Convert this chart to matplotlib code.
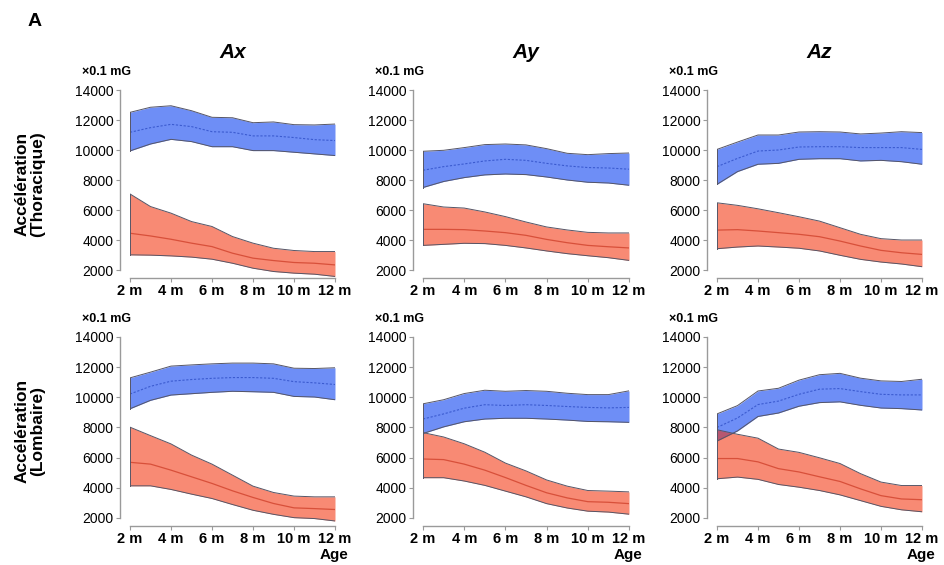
import matplotlib
matplotlib.use("Agg")
import matplotlib.pyplot as plt
import numpy as np

plt.rcParams['font.family'] = ['Liberation Sans', 'DejaVu Sans']

months = [2, 3, 4, 5, 6, 7, 8, 9, 10, 11, 12]
xtick_vals = [2, 4, 6, 8, 10, 12]
xtick_labels = ["2 m", "4 m", "6 m", "8 m", "10 m", "12 m"]
ytick_vals = [2000, 4000, 6000, 8000, 10000, 12000, 14000]
col_titles = ["Ax", "Ay", "Az"]
row_labels = ["Accélération\n(Thoracique)", "Accélération\n(Lombaire)"]

# Thoracic Ax
tx_blue_up = [12510, 12850, 12950, 12620, 12180, 12150, 11820, 11870, 11690, 11670, 11730]
tx_blue_mid = [11180, 11490, 11710, 11560, 11220, 11180, 10940, 10940, 10830, 10690, 10630]
tx_blue_lo = [9940, 10400, 10710, 10560, 10220, 10220, 9960, 9960, 9850, 9740, 9630]
tx_red_up = [7070, 6230, 5790, 5230, 4900, 4230, 3790, 3450, 3300, 3230, 3230]
tx_red_mid = [4450, 4270, 4050, 3790, 3560, 3120, 2790, 2630, 2500, 2450, 2340]
tx_red_lo = [3010, 2990, 2940, 2860, 2720, 2450, 2120, 1900, 1790, 1720, 1570]
# Thoracic Ay
ty_blue_up = [9915, 9980, 10160, 10360, 10400, 10340, 10090, 9780, 9690, 9760, 9800]
ty_blue_mid = [8650, 8890, 9070, 9270, 9380, 9310, 9110, 8940, 8830, 8800, 8720]
ty_blue_lo = [7500, 7900, 8160, 8340, 8400, 8360, 8200, 8000, 7850, 7800, 7650]
ty_red_up = [6420, 6200, 6130, 5870, 5560, 5200, 4870, 4670, 4510, 4470, 4470]
ty_red_mid = [4710, 4710, 4690, 4600, 4490, 4310, 4040, 3820, 3640, 3550, 3470]
ty_red_lo = [3640, 3710, 3780, 3760, 3640, 3470, 3270, 3090, 2950, 2820, 2640]
# Thoracic Az
tz_blue_up = [10040, 10530, 11000, 11000, 11200, 11220, 11200, 11070, 11130, 11220, 11160]
tz_blue_mid = [8890, 9440, 9930, 10000, 10200, 10220, 10220, 10160, 10160, 10160, 10040]
tz_blue_lo = [7710, 8560, 9050, 9110, 9380, 9420, 9420, 9270, 9310, 9220, 9050]
tz_red_up = [6480, 6310, 6080, 5820, 5550, 5260, 4820, 4380, 4090, 4000, 4000]
tz_red_mid = [4660, 4690, 4600, 4490, 4380, 4220, 3930, 3600, 3310, 3150, 3040]
tz_red_lo = [3420, 3530, 3600, 3530, 3450, 3270, 2980, 2710, 2530, 2400, 2220]
# Lumbar Ax
lx_blue_up = [11290, 11670, 12070, 12150, 12220, 12270, 12270, 12220, 11930, 11910, 11960]
lx_blue_mid = [10220, 10730, 11070, 11180, 11260, 11310, 11310, 11260, 11040, 10960, 10850]
lx_blue_lo = [9240, 9800, 10150, 10240, 10330, 10400, 10370, 10330, 10060, 10020, 9840]
lx_red_up = [8020, 7460, 6910, 6170, 5570, 4840, 4110, 3690, 3450, 3400, 3400]
lx_red_mid = [5690, 5570, 5170, 4730, 4290, 3800, 3360, 2960, 2670, 2620, 2560]
lx_red_lo = [4130, 4130, 3890, 3580, 3290, 2890, 2510, 2240, 2020, 1960, 1800]
# Lumbar Ay
ly_blue_up = [9570, 9840, 10250, 10470, 10400, 10450, 10400, 10270, 10180, 10180, 10430]
ly_blue_mid = [8560, 8900, 9280, 9510, 9460, 9510, 9460, 9390, 9330, 9300, 9330]
ly_blue_lo = [7600, 8040, 8380, 8560, 8610, 8610, 8560, 8490, 8400, 8380, 8340]
ly_red_up = [7660, 7370, 6920, 6360, 5640, 5120, 4520, 4110, 3820, 3780, 3730]
ly_red_mid = [5910, 5870, 5570, 5170, 4680, 4160, 3670, 3330, 3080, 3040, 2950]
ly_red_lo = [4670, 4670, 4450, 4160, 3780, 3400, 2950, 2660, 2450, 2390, 2250]
# Lumbar Az
lz_blue_up = [8900, 9450, 10420, 10600, 11140, 11500, 11590, 11270, 11090, 11050, 11200]
lz_blue_mid = [8000, 8630, 9520, 9750, 10200, 10540, 10580, 10380, 10200, 10160, 10160]
lz_blue_lo = [7100, 7770, 8730, 8960, 9410, 9650, 9700, 9470, 9290, 9250, 9160]
lz_red_up = [7850, 7550, 7290, 6570, 6350, 5990, 5610, 4940, 4380, 4150, 4150]
lz_red_mid = [5940, 5940, 5720, 5270, 5050, 4730, 4420, 3930, 3480, 3260, 3210]
lz_red_lo = [4600, 4710, 4560, 4220, 4040, 3820, 3530, 3150, 2770, 2540, 2410]

panels = [
    [(tx_blue_up, tx_blue_mid, tx_blue_lo, tx_red_up, tx_red_mid, tx_red_lo),
     (ty_blue_up, ty_blue_mid, ty_blue_lo, ty_red_up, ty_red_mid, ty_red_lo),
     (tz_blue_up, tz_blue_mid, tz_blue_lo, tz_red_up, tz_red_mid, tz_red_lo)],
    [(lx_blue_up, lx_blue_mid, lx_blue_lo, lx_red_up, lx_red_mid, lx_red_lo),
     (ly_blue_up, ly_blue_mid, ly_blue_lo, ly_red_up, ly_red_mid, ly_red_lo),
     (lz_blue_up, lz_blue_mid, lz_blue_lo, lz_red_up, lz_red_mid, lz_red_lo)],
]

W, H = 944, 565
fig = plt.figure(figsize=(W / 100, H / 100), dpi=100)

col_left = [130, 423, 717]
col_right = [335, 629, 922]
row_top = [90, 337]
row_bot = [277.5, 525.5]

blue_fill = "#6e8ef6"
blue_line = "#3b5bd0"
red_fill_rgb = (244 / 255, 42 / 255, 2 / 255)
red_alpha = 0.55
red_line = "#d8503a"
edge = "#555566"
spine_col = "#9a9a9a"

for r in range(2):
    for c in range(3):
        l = col_left[c] / W
        w = (col_right[c] - col_left[c]) / W
        b = 1 - row_bot[r] / H
        h = (row_bot[r] - row_top[r]) / H
        ax = fig.add_axes([l, b, w, h])
        bu, bm, bl, ru, rm, rl = panels[r][c]
        ax.fill_between(months, bl, bu, color=blue_fill, lw=0, zorder=1)
        ax.plot(months, bu, color=edge, lw=0.7, zorder=3)
        ax.plot(months, bl, color=edge, lw=0.7, zorder=3)
        ax.plot(months, bm, color=blue_line, lw=0.8, ls=(0, (2, 1.5)), zorder=3)
        ax.fill_between(months, rl, ru, color=red_fill_rgb, alpha=red_alpha, lw=0, zorder=2)
        ax.plot(months, ru, color=edge, lw=0.7, zorder=3)
        ax.plot(months, rl, color=edge, lw=0.7, zorder=3)
        ax.plot(months, rm, color=red_line, lw=0.9, zorder=3)
        ax.plot([months[0], months[0]], [ru[0], rl[0]], color=edge, lw=0.7, zorder=3)
        ax.plot([months[-1], months[-1]], [ru[-1], rl[-1]], color=edge, lw=0.7, zorder=3)
        ax.plot([months[0], months[0]], [bu[0], bl[0]], color=edge, lw=0.7, zorder=3)
        ax.plot([months[-1], months[-1]], [bu[-1], bl[-1]], color=edge, lw=0.7, zorder=3)

        ax.set_xlim(2, 12)
        ax.set_ylim(1500, 14000)
        ax.set_xticks(xtick_vals)
        ax.set_xticklabels(xtick_labels, fontsize=10.5, fontweight='bold')
        ax.set_yticks(ytick_vals)
        ax.set_yticklabels([str(v) for v in ytick_vals], fontsize=10.5, fontweight='bold')
        for s in ['top', 'right']:
            ax.spines[s].set_visible(False)
        ax.spines['left'].set_position(('outward', 7))
        ax.spines['left'].set_bounds(2000, 14000)
        ax.spines['bottom'].set_bounds(2, 12)
        for s in ['left', 'bottom']:
            ax.spines[s].set_color(spine_col)
            ax.spines[s].set_linewidth(1.0)
        ax.tick_params(axis='y', length=3, color=spine_col, pad=2)
        ax.tick_params(axis='x', length=3, color=spine_col, pad=2)
        ax.patch.set_alpha(0)

        # unit label
        fig.text((col_left[c] - 48) / W, 1 - (row_top[r] - 18) / H, "×0.1 mG",
                 fontsize=9, fontweight='bold', ha='left', va='center')
        if r == 0:
            fig.text((col_left[c] + col_right[c]) / 2 / W, 1 - 52 / H, col_titles[c],
                     fontsize=15, fontweight='bold', style='italic', ha='center', va='center')
        if r == 1:
            fig.text((col_right[c] + 13) / W, 1 - 555 / H, "Age",
                     fontsize=11, fontweight='bold', ha='right', va='center')

for r in range(2):
    yc = (row_top[r] + row_bot[r]) / 2
    fig.text(30 / W, 1 - yc / H, row_labels[r], fontsize=12.5, fontweight='bold',
             rotation=90, ha='center', va='center', linespacing=1.1)

fig.text(28 / W, 1 - 22 / H, "A", fontsize=14, fontweight='bold', ha='left', va='center')

fig.savefig("out.png", dpi=100)
